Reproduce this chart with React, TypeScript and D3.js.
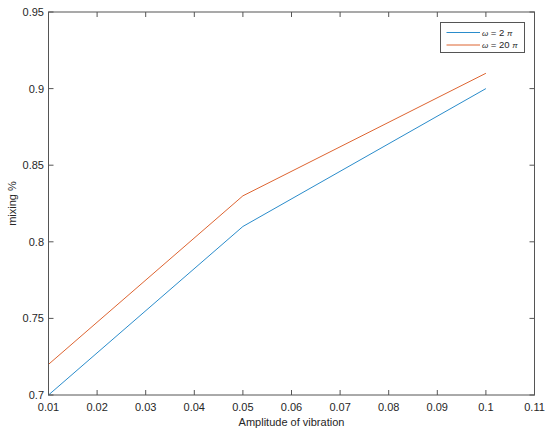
import React from "react";
import * as d3 from "d3";

const amplitudes = [0.01, 0.05, 0.1];
const mixing2pi = [0.7, 0.81, 0.9];
const mixing20pi = [0.72, 0.83, 0.91];
const seriesNames = ["2", "20"];
const seriesColors = ["#2a8ccb", "#dd6431"];
const xTicks = [0.01, 0.02, 0.03, 0.04, 0.05, 0.06, 0.07, 0.08, 0.09, 0.1, 0.11];
const yTicks = [0.7, 0.75, 0.8, 0.85, 0.9, 0.95];

export default function App() {
  const W = 550, H = 435;
  const left = 48.5, right = 534.5, top = 12, bottom = 395;
  const x = d3.scaleLinear().domain([0.01, 0.11]).range([left, right]);
  const y = d3.scaleLinear().domain([0.7, 0.95]).range([bottom, top]);
  const line = d3.line<[number, number]>().x(d => x(d[0])).y(d => y(d[1]));
  const series = [mixing2pi, mixing20pi];
  const axisColor = "#555555";
  const textColor = "#262626";
  const font = "'Liberation Sans', Arial, Helvetica, sans-serif";
  const tl = 5;
  const fmt = (v: number) => String(+v.toFixed(3));
  return (
    <svg width={W} height={H} style={{ position: "absolute", left: 0, top: 0, background: "#fff" }} fontFamily={font}>
      <rect x={0} y={0} width={W} height={H} fill="#fff" />
      {series.map((s, i) => (
        <path key={i} d={line(amplitudes.map((a, j) => [a, s[j]] as [number, number])) || ""} fill="none" stroke={seriesColors[i]} strokeWidth={1} />
      ))}
      <rect x={left} y={top} width={right - left} height={bottom - top} fill="none" stroke={axisColor} strokeWidth={1} />
      {xTicks.map((t, i) => (
        <g key={"x" + i}>
          <line x1={x(t)} x2={x(t)} y1={bottom} y2={bottom - tl} stroke={axisColor} />
          <line x1={x(t)} x2={x(t)} y1={top} y2={top + tl} stroke={axisColor} />
          <text x={x(t)} y={411} textAnchor="middle" fontSize={11} fill={textColor}>{fmt(t)}</text>
        </g>
      ))}
      {yTicks.map((t, i) => (
        <g key={"y" + i}>
          <line x1={left} x2={left + tl} y1={y(t)} y2={y(t)} stroke={axisColor} />
          <line x1={right} x2={right - tl} y1={y(t)} y2={y(t)} stroke={axisColor} />
          <text x={44} y={y(t) + 4} textAnchor="end" fontSize={11} fill={textColor}>{fmt(t)}</text>
        </g>
      ))}
      <text x={(left + right) / 2} y={425.5} textAnchor="middle" fontSize={11} fill={textColor}>Amplitude of vibration</text>
      <text transform={`translate(15.5,${(top + bottom) / 2}) rotate(-90)`} textAnchor="middle" fontSize={11} fill={textColor}>mixing %</text>
      <g>
        <rect x={440.5} y={22.5} width={84} height={30} fill="#fff" stroke={axisColor} strokeWidth={1} />
        {seriesNames.map((n, i) => (
          <g key={"l" + i}>
            <line x1={446.5} x2={480} y1={32.5 + i * 12.5} y2={32.5 + i * 12.5} stroke={seriesColors[i]} strokeWidth={1} />
            <text x={482} y={35.5 + i * 12.5} fontSize={9.5} fill={textColor}>
              <tspan fontStyle="italic" fontSize={8}>ω</tspan>
              <tspan> = {n} </tspan>
              <tspan fontStyle="italic" fontSize={8}>π</tspan>
            </text>
          </g>
        ))}
      </g>
    </svg>
  );
}
